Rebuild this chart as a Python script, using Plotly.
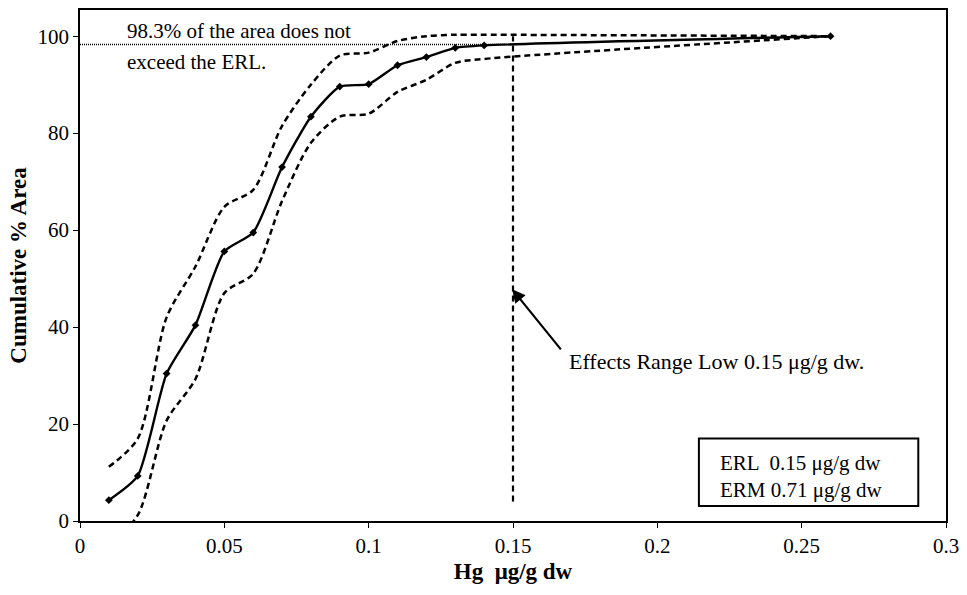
import plotly.graph_objects as go

# Data
hg = [0.01, 0.02, 0.03, 0.04, 0.05, 0.06, 0.07, 0.08, 0.09, 0.10, 0.11, 0.12, 0.13, 0.14, 0.26]
cum_area = [4.3, 9.3, 30.4, 40.4, 55.6, 59.5, 73.0, 83.4, 89.6, 90.1, 94.0, 95.7, 97.6, 98.1, 100.0]
upper_ci = [11.2, 17.0, 42.0, 52.5, 64.8, 68.3, 81.5, 90.0, 96.0, 96.6, 99.0, 100.0, 100.3, 100.3, 100.0]
lower_ci = [-5.0, 1.2, 20.7, 29.3, 47.0, 51.0, 66.0, 78.0, 83.4, 84.0, 88.5, 91.0, 94.5, 95.3, 100.0]

erl_x = [0.15, 0.15]
erl_y = [4.0, 100.0]
pct_x = [0.0, 0.15]
pct_y = [98.3, 98.3]

x_ticks = [0, 0.05, 0.1, 0.15, 0.2, 0.25, 0.3]
x_tick_text = ["0", "0.05", "0.1", "0.15", "0.2", "0.25", "0.3"]
y_ticks = [0, 20, 40, 60, 80, 100]

FONT = "Liberation Serif"

fig = go.Figure()

fig.add_trace(go.Scatter(x=hg, y=upper_ci, mode="lines",
                         line=dict(color="black", width=2.5, dash="6px,4px", shape="spline", smoothing=0.8),
                         showlegend=False, hoverinfo="skip"))
fig.add_trace(go.Scatter(x=hg, y=lower_ci, mode="lines",
                         line=dict(color="black", width=2.5, dash="6px,4px", shape="spline", smoothing=0.8),
                         showlegend=False, hoverinfo="skip"))
fig.add_trace(go.Scatter(x=pct_x, y=pct_y, mode="lines",
                         line=dict(color="black", width=1.5, dash="1px,1px"),
                         showlegend=False, hoverinfo="skip"))
fig.add_trace(go.Scatter(x=erl_x, y=erl_y, mode="lines",
                         line=dict(color="black", width=2.2, dash="6px,4px"),
                         showlegend=False, hoverinfo="skip"))
fig.add_trace(go.Scatter(x=hg, y=cum_area, mode="lines+markers",
                         line=dict(color="black", width=2.4, shape="spline", smoothing=0.6),
                         marker=dict(symbol="diamond", size=6, color="black"),
                         showlegend=False))

fig.update_layout(
    width=967, height=595,
    margin=dict(l=80, r=16, t=8, b=74),
    paper_bgcolor="white", plot_bgcolor="white",
    font=dict(family=FONT, size=21, color="black"),
    xaxis=dict(range=[0, 0.3], tickvals=x_ticks, ticktext=x_tick_text,
               showgrid=False, zeroline=False,
               showline=True, linecolor="black", linewidth=1.5, mirror=True,
               ticks="outside", ticklen=5, tickcolor="black",
               tickfont=dict(family=FONT, size=21),
               title=dict(text="<b>Hg  μg/g dw</b>", font=dict(family=FONT, size=23), standoff=6)),
    yaxis=dict(range=[0, 105.4], tickvals=y_ticks,
               showgrid=False, zeroline=False,
               showline=True, linecolor="black", linewidth=1.5, mirror=True,
               ticks="outside", ticklen=5, tickcolor="black",
               tickfont=dict(family=FONT, size=21),
               title=dict(text="<b>Cumulative % Area</b>", font=dict(family=FONT, size=23), standoff=4)),
)

fig.add_annotation(x=0.0156, y=101, xref="x", yref="y", text="98.3% of the area does not",
                   showarrow=False, xanchor="left", yanchor="middle", font=dict(family=FONT, size=21))
fig.add_annotation(x=0.0156, y=94.7, xref="x", yref="y", text="exceed the ERL.",
                   showarrow=False, xanchor="left", yanchor="middle", font=dict(family=FONT, size=21))
fig.add_annotation(x=0.1687, y=33, xref="x", yref="y", text="Effects Range Low 0.15 μg/g dw.",
                   showarrow=False, xanchor="left", yanchor="middle", font=dict(family=FONT, size=22))
fig.add_annotation(x=0.1497, y=47.8, ax=0.167, ay=35.1, xref="x", yref="y", axref="x", ayref="y",
                   text="", showarrow=True, arrowhead=2, arrowsize=1.2, arrowwidth=2.2, arrowcolor="black")

fig.add_shape(type="rect", xref="x", yref="y", x0=0.2144, x1=0.2904, y0=3.1, y1=17.0,
              line=dict(color="black", width=2), fillcolor="white")
fig.add_annotation(x=0.221, y=11.9, xref="x", yref="y", text="ERL  0.15 μg/g dw",
                   showarrow=False, xanchor="left", yanchor="middle", font=dict(family=FONT, size=21))
fig.add_annotation(x=0.221, y=6.4, xref="x", yref="y", text="ERM 0.71 μg/g dw",
                   showarrow=False, xanchor="left", yanchor="middle", font=dict(family=FONT, size=21))

fig.write_html("out.html")
